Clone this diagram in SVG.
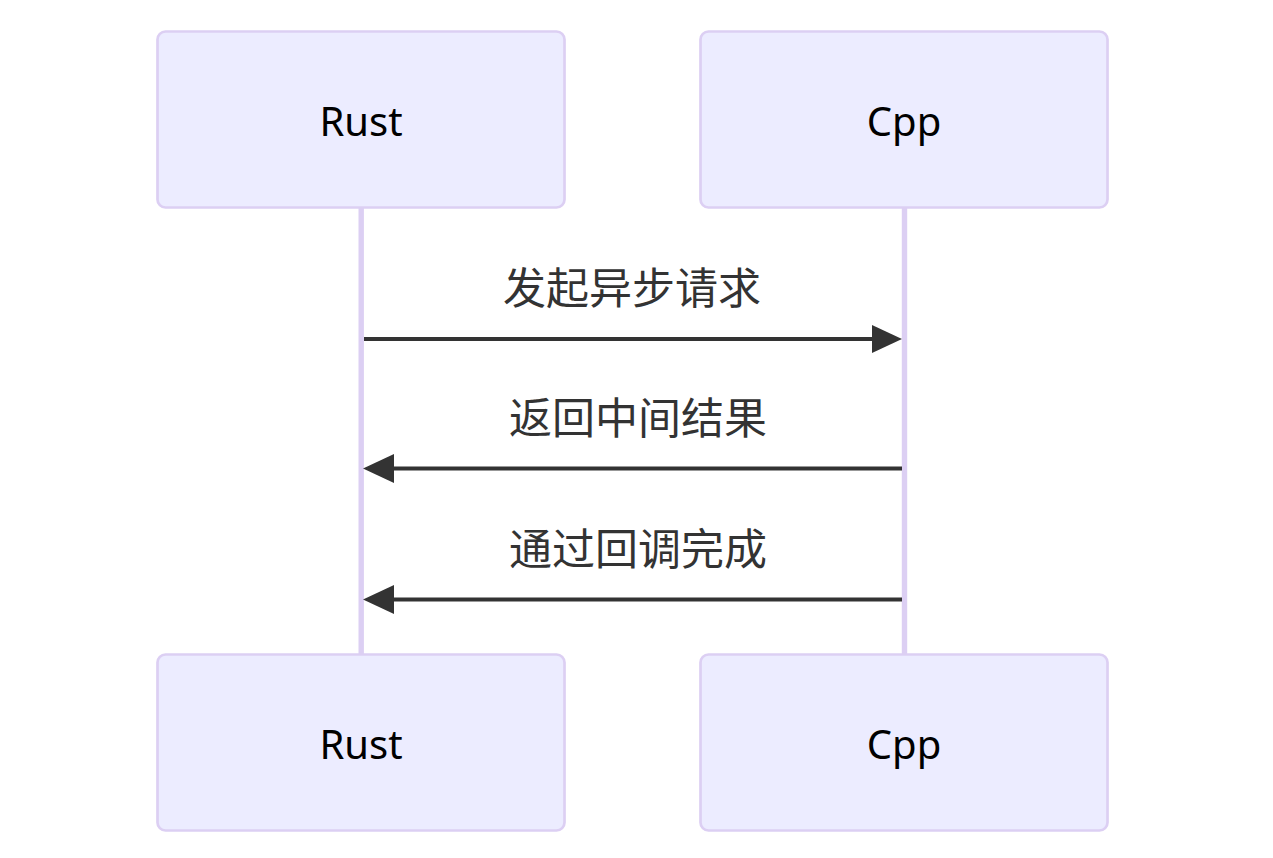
<svg xmlns="http://www.w3.org/2000/svg" width="1273" height="858" viewBox="0 0 1273 858">
<style>
.actor{fill:#ececff;stroke:#dccff3;stroke-width:2.7}
.alabel{font-family:"Noto Sans","Open Sans",sans-serif;font-size:40px;fill:#000;text-anchor:middle;dominant-baseline:central}
.life{stroke:#dccff3;stroke-width:5.4}
.msg{stroke:#333;stroke-width:4.2;fill:none}
.head{fill:#333}
.mlabel{font-family:"Noto Sans CJK SC","Noto Sans",sans-serif;font-size:43px;fill:#333;text-anchor:middle}
</style>
<rect width="1273" height="858" fill="#fff"/>
<g id="lifelines">
<line class="life" x1="361.2" y1="208" x2="361.2" y2="654"/>
<line class="life" x1="904.5" y1="208" x2="904.5" y2="654"/>
</g>
<g id="actor-rust-top"><rect class="actor" x="157.5" y="31.5" width="407" height="176" rx="8"/><text class="alabel" x="361" y="120">Rust</text></g>
<g id="actor-cpp-top"><rect class="actor" x="700.5" y="31.5" width="407" height="176" rx="8"/><text class="alabel" x="904" y="120">Cpp</text></g>
<g id="actor-rust-bottom"><rect class="actor" x="157.5" y="654.5" width="407" height="176" rx="8"/><text class="alabel" x="361" y="743">Rust</text></g>
<g id="actor-cpp-bottom"><rect class="actor" x="700.5" y="654.5" width="407" height="176" rx="8"/><text class="alabel" x="904" y="743">Cpp</text></g>
<g id="connectors">
<line class="msg" x1="364" y1="339" x2="875" y2="339"/>
<polygon class="head" points="902,339 872,325 872,353"/>
<text class="mlabel" x="632" y="304">发起异步请求</text>
<line class="msg" x1="390" y1="468.5" x2="902" y2="468.5"/>
<polygon class="head" points="363,468.5 394,454 394,483"/>
<text class="mlabel" x="638" y="434">返回中间结果</text>
<line class="msg" x1="390" y1="599.5" x2="902" y2="599.5"/>
<polygon class="head" points="363,599.5 394,585 394,614"/>
<text class="mlabel" x="638" y="565">通过回调完成</text>
</g>
</svg>
